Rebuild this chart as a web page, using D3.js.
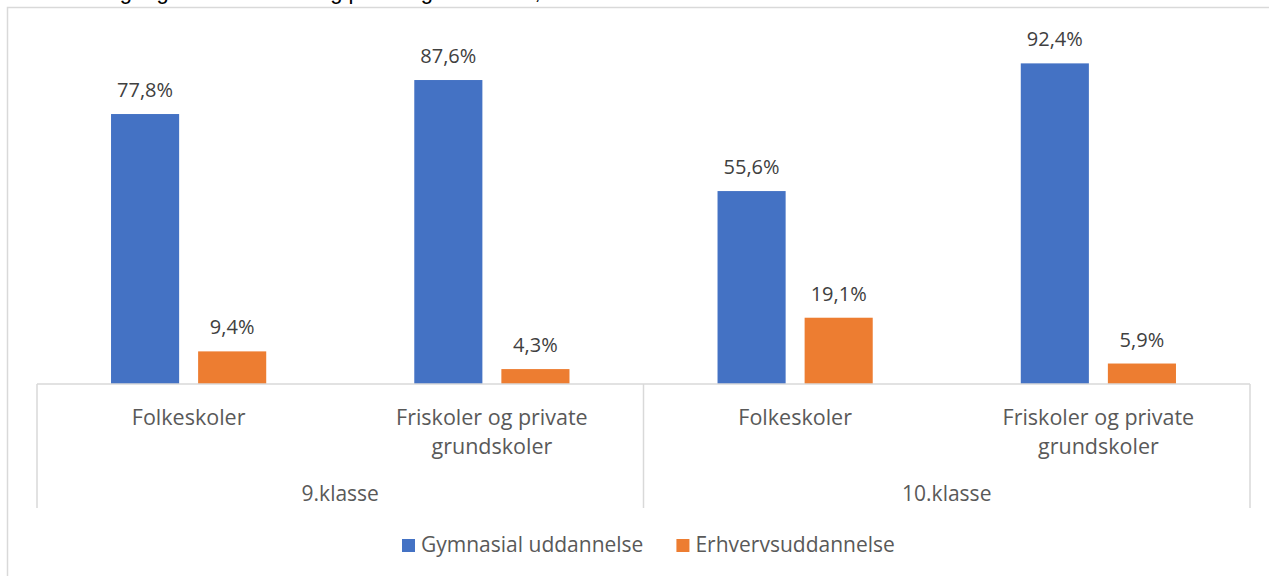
<!DOCTYPE html>
<html lang="da">
<head>
<meta charset="utf-8">
<title>Gymnasial og erhvervsuddannelse</title>
<script src="https://cdn.jsdelivr.net/npm/d3@7"></script>
<style>
  body { margin: 0; background: #fff; }
  text { font-family: "Open Sans", sans-serif; }
</style>
</head>
<body>
<script>
// data
var groups = ["9.klasse", "10.klasse"];
var schools = ["Folkeskoler", "Friskoler og private grundskoler"];
var schoolLines = [["Folkeskoler"], ["Friskoler og private", "grundskoler"]];
var series = ["Gymnasial uddannelse", "Erhvervsuddannelse"];
var gymnasial = [77.8, 87.6, 55.6, 92.4];
var erhverv = [9.4, 4.3, 19.1, 5.9];
var colors = ["#4472C4", "#ED7D31"];

var w = 1269, h = 576;
var plotLeft = 37, plotRight = 1250, plotBase = 384, plotTop = 37;

var svg = d3.select("body").append("svg")
  .attr("width", w).attr("height", h);

// cut-off title at the very top
svg.append("text")
  .attr("x", 0).attr("y", -1)
  .style("font-family", "'Liberation Sans', Arial, sans-serif")
  .style("font-size", "22px")
  .attr("fill", "#000")
  .text("Elevernes tilgang fra folkeskoler og private grundskoler, 2019");

// chart frame (cut at right / bottom)
svg.append("path")
  .attr("d", "M7.5," + h + " V7.5 H" + w)
  .attr("fill", "none").attr("stroke", "#d9d9d9").attr("stroke-width", 1.5);

// rows: one per group x school
var rows = [];
groups.forEach(function(g, gi) {
  schools.forEach(function(s, si) {
    var i = gi * schools.length + si;
    rows.push({ key: g + "|" + s, group: g, school: si, values: [gymnasial[i], erhverv[i]] });
  });
});

var x0 = d3.scaleBand()
  .domain(rows.map(function(d) { return d.key; }))
  .range([plotLeft, plotRight]);

var x1 = d3.scaleBand()
  .domain(series)
  .range([0, x0.bandwidth()])
  .paddingInner(0.218)
  .paddingOuter(0.85);

var y = d3.scaleLinear().domain([0, 100]).range([plotBase, plotTop]);

var fmt = d3.formatLocale({ decimal: ",", thousands: ".", grouping: [3], currency: ["", ""] }).format(".1f");

var cat = svg.selectAll("g.cat")
  .data(rows)
  .enter().append("g")
  .attr("class", "cat")
  .attr("transform", function(d) { return "translate(" + x0(d.key) + ",0)"; });

cat.selectAll("rect")
  .data(function(d) { return d.values.map(function(v, i) { return { s: series[i], v: v, i: i }; }); })
  .enter().append("rect")
  .attr("x", function(d) { return x1(d.s); })
  .attr("y", function(d) { return y(d.v); })
  .attr("width", x1.bandwidth())
  .attr("height", function(d) { return plotBase - y(d.v); })
  .attr("fill", function(d) { return colors[d.i]; });

cat.selectAll("text.val")
  .data(function(d) { return d.values.map(function(v, i) { return { s: series[i], v: v }; }); })
  .enter().append("text")
  .attr("class", "val")
  .attr("x", function(d) { return x1(d.s) + x1.bandwidth() / 2; })
  .attr("y", function(d) { return y(d.v) - 17; })
  .attr("text-anchor", "middle")
  .style("font-size", "20px")
  .attr("fill", "#404040")
  .text(function(d) { return fmt(d.v) + "%"; });

// category axis
var axisCol = "#d9d9d9";
svg.append("line")
  .attr("x1", plotLeft).attr("x2", plotRight).attr("y1", plotBase).attr("y2", plotBase)
  .attr("stroke", axisCol).attr("stroke-width", 1.5);

var groupEdges = [plotLeft, x0(rows[schools.length].key), plotRight];
svg.selectAll("line.sep")
  .data(groupEdges)
  .enter().append("line")
  .attr("class", "sep")
  .attr("x1", function(d) { return d; }).attr("x2", function(d) { return d; })
  .attr("y1", plotBase).attr("y2", 508)
  .attr("stroke", axisCol).attr("stroke-width", 1.5);

cat.append("text")
  .attr("x", x0.bandwidth() / 2)
  .attr("y", 425)
  .attr("text-anchor", "middle")
  .style("font-size", "21.5px")
  .attr("fill", "#595959")
  .selectAll("tspan")
  .data(function(d) { return schoolLines[d.school]; })
  .enter().append("tspan")
  .attr("x", x0.bandwidth() / 2)
  .attr("dy", function(d, i) { return i ? 29 : 0; })
  .text(function(d) { return d; });

svg.selectAll("text.grp")
  .data(groups)
  .enter().append("text")
  .attr("class", "grp")
  .attr("x", function(d, i) { return (groupEdges[i] + groupEdges[i + 1]) / 2; })
  .attr("y", 501)
  .attr("text-anchor", "middle")
  .style("font-size", "21px")
  .attr("fill", "#595959")
  .text(function(d) { return d; });

// legend
var legend = svg.append("g");
var lx = 402;
series.forEach(function(s, i) {
  var g = legend.append("g").attr("transform", "translate(" + lx + ",0)");
  g.append("rect").attr("x", 0).attr("y", 539).attr("width", 13).attr("height", 13).attr("fill", colors[i]);
  var t = g.append("text").attr("x", 19).attr("y", 552)
    .style("font-size", "21px").attr("fill", "#595959").text(s);
  lx += 19 + t.node().getComputedTextLength() + 33;
});
</script>
</body>
</html>
